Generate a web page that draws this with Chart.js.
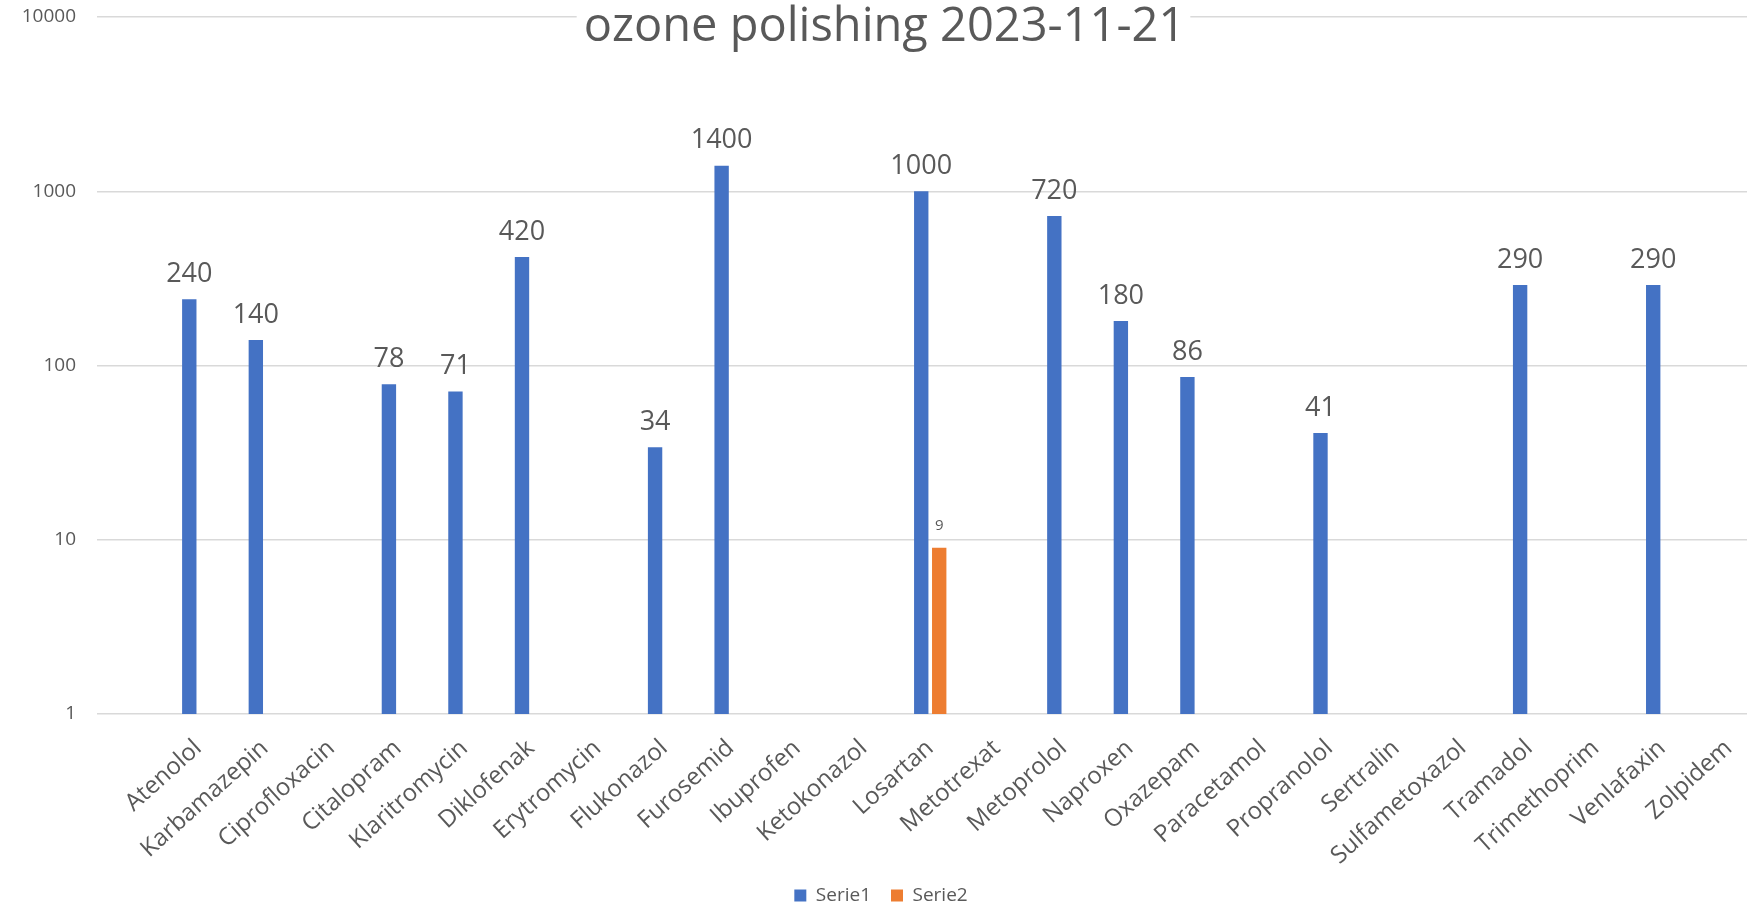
<!DOCTYPE html>
<html>
<head>
<meta charset="utf-8">
<script src="https://cdn.jsdelivr.net/npm/chart.js@4"></script>
<style>
  html, body { margin: 0; padding: 0; background: #fff; overflow: hidden; }
</style>
</head>
<body>
<canvas id="myChart" width="1769" height="907"></canvas>
<script>
const labels = [
    'Atenolol', 'Karbamazepin', 'Ciprofloxacin', 'Citalopram', 'Klaritromycin',
    'Diklofenak', 'Erytromycin', 'Flukonazol', 'Furosemid', 'Ibuprofen',
    'Ketokonazol', 'Losartan', 'Metotrexat', 'Metoprolol', 'Naproxen',
    'Oxazepam', 'Paracetamol', 'Propranolol', 'Sertralin', 'Sulfametoxazol',
    'Tramadol', 'Trimethoprim', 'Venlafaxin', 'Zolpidem',
];

const serie1 = [240, 140, null, 78, 71, 420, null, 34, 1400, null, null, 1000,
    null, 720, 180, 86, null, 41, null, null, 290, null, 290, null];
const serie2 = [null, null, null, null, null, null, null, null, null, null, null, 9,
    null, null, null, null, null, null, null, null, null, null, null, null];

const yTicks = [1, 10, 100, 1000, 10000];
const chartTitle = 'ozone polishing 2023-11-21';

const textGray = '#595959';
const gridGray = '#d9d9d9';

// title sits over the top gridline with a white box behind it
const titlePlugin = {
    id: 'overTitle',
    afterDraw(chart) {
        const ctx = chart.ctx;
        ctx.save();
        ctx.font = '47px "Open Sans"';
        const w = ctx.measureText(chartTitle).width;
        const cx = chart.width / 2;
        ctx.fillStyle = '#fff';
        ctx.fillRect(cx - w / 2 - 7, 0, w + 12, 38);
        ctx.fillStyle = textGray;
        ctx.textAlign = 'center';
        ctx.textBaseline = 'alphabetic';
        ctx.fillText(chartTitle, cx, 41);
        ctx.restore();
    }
};

// value labels above bars
const valueLabels = {
    id: 'valueLabels',
    afterDatasetsDraw(chart) {
        const ctx = chart.ctx;
        ctx.save();
        ctx.textAlign = 'center';
        ctx.textBaseline = 'middle';
        ctx.fillStyle = textGray;
        chart.data.datasets.forEach((ds, di) => {
            const meta = chart.getDatasetMeta(di);
            ctx.font = (di === 0 ? 27 : 15) + 'px "Open Sans"';
            const off = di === 0 ? 25 : 22;
            meta.data.forEach((bar, i) => {
                const v = ds.data[i];
                if (v === null || v === undefined) return;
                ctx.fillText(String(v), bar.x, bar.y - off);
            });
        });
        ctx.restore();
    }
};

const data = {
    labels: labels,
    datasets: [{
        label: 'Serie1',
        data: serie1,
        backgroundColor: '#4472c4',
        categoryPercentage: 0.54,
        barPercentage: 0.8,
    }, {
        label: 'Serie2',
        data: serie2,
        backgroundColor: '#ed7d31',
        categoryPercentage: 0.54,
        barPercentage: 0.8,
    }]
};

const config = {
    type: 'bar',
    data: data,
    plugins: [titlePlugin, valueLabels],
    options: {
        responsive: false,
        animation: false,
        layout: {
            padding: { top: 17, right: 7, left: 0, bottom: -8 }
        },
        plugins: {
            title: { display: false },
            tooltip: { enabled: false },
            legend: {
                position: 'bottom',
                labels: {
                    boxWidth: 12,
                    boxHeight: 12,
                    padding: 20,
                    color: textGray,
                    font: { family: 'Open Sans', size: 19 },
                },
            },
        },
        scales: {
            x: {
                grid: { display: false, drawTicks: false },
                border: { display: false },
                ticks: {
                    autoSkip: false,
                    minRotation: 42,
                    maxRotation: 42,
                    padding: 20,
                    color: textGray,
                    font: { family: 'Open Sans', size: 24 },
                },
                afterFit(scale) { scale.height = 152; },
            },
            y: {
                type: 'logarithmic',
                min: 1,
                max: 10000,
                border: { display: false },
                grid: {
                    color: gridGray,
                    lineWidth: 1.5,
                    drawTicks: true,
                    tickLength: 68,
                },
                ticks: {
                    padding: 21,
                    color: textGray,
                    font: { family: 'Open Sans', size: 19 },
                    callback: (v) => String(v),
                },
                afterBuildTicks(scale) {
                    scale.ticks = yTicks.map(v => ({ value: v }));
                },
                afterFit(scale) {
                    scale.width = 165;
                    scale.paddingTop = 10;
                    scale.paddingBottom = 10;
                },
            },
        },
    }
};

new Chart(document.getElementById('myChart'), config);
</script>
</body>
</html>
